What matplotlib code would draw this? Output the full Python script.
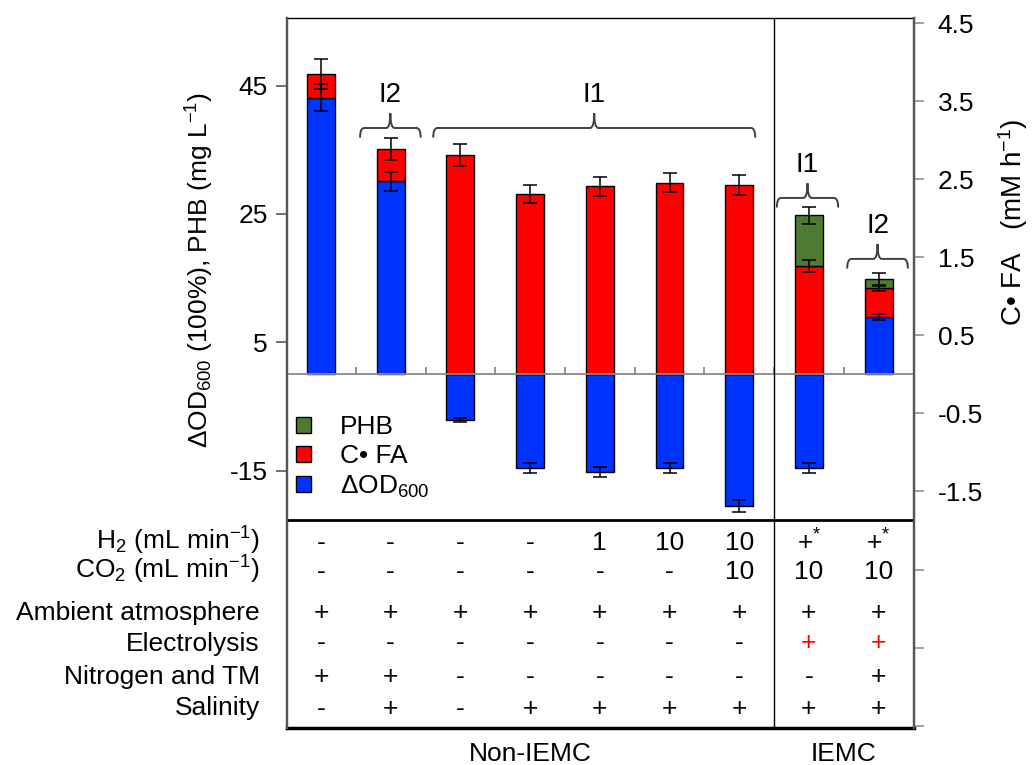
import numpy as np
import matplotlib
matplotlib.use("Agg")
import matplotlib.pyplot as plt
from matplotlib.patches import Patch, PathPatch
from matplotlib.path import Path
from matplotlib import transforms

plt.rcParams['font.family'] = ['Liberation Sans', 'DejaVu Sans']
plt.rcParams['mathtext.fontset'] = 'custom'
plt.rcParams['mathtext.rm'] = 'Liberation Sans'
plt.rcParams['mathtext.it'] = 'Liberation Sans:italic'
plt.rcParams['mathtext.default'] = 'regular'
plt.rcParams['axes.unicode_minus'] = False

# segment heights, in left-axis units (as plotted)
od_pos = [43.1, 30.1, 0, 0, 0, 0, 0, 0, 8.9]
od_neg = [0, 0, -7.1, -14.6, -15.2, -14.6, -20.5, -14.6, 0]
cfa = [3.7, 5.0, 34.2, 28.1, 29.3, 29.9, 29.5, 16.9, 4.5]
phb = [0, 0, 0, 0, 0, 0, 0, 7.9, 1.5]

od_pos_err = [2.1, 1.5, 0, 0, 0, 0, 0, 0, 0.45]
od_neg_err = [0, 0, 0.36, 0.75, 0.78, 0.75, 1.0, 0.75, 0]
cfa_err = [2.3, 1.7, 1.75, 1.4, 1.5, 1.5, 1.5, 0.9, 0.4]
phb_err = [0, 0, 0, 0, 0, 0, 0, 1.35, 0.9]

# brackets: (x start, x end, line level, label)
brackets = [(0.56, 1.43, 38.4, 'I2'),
            (1.61, 6.23, 38.4, 'I1'),
            (6.54, 7.42, 27.5, 'I1'),
            (7.55, 8.42, 18.0, 'I2')]

row_labels = ['H$_2$ (mL min$^{-1}$)', 'CO$_2$ (mL min$^{-1}$)', 'Ambient atmosphere',
              'Electrolysis', 'Nitrogen and TM', 'Salinity']
table = [
    ['-', '-', '-', '-', '1', '10', '10', '+$^{*}$', '+$^{*}$'],
    ['-', '-', '-', '-', '-', '-', '10', '10', '10'],
    ['+', '+', '+', '+', '+', '+', '+', '+', '+'],
    ['-', '-', '-', '-', '-', '-', '-', '+', '+'],
    ['+', '+', '-', '-', '-', '-', '-', '-', '+'],
    ['-', '+', '-', '+', '+', '+', '+', '+', '+'],
]
row_base_px = [550, 579, 620, 650.5, 684, 715.5]

BLUE = '#0033FF'
RED = '#FF0000'
GREEN = '#4F7A32'

W, H = 1032, 765
fig = plt.figure(figsize=(W / 100, H / 100), dpi=100)
ax = fig.add_axes([287 / W, 37 / H, 627 / W, 710 / H])

x = np.arange(len(cfa))
od_pos = np.array(od_pos)
od_neg = np.array(od_neg)
cfa = np.array(cfa)
phb = np.array(phb)

ylo, yhi = -55.1, 55.54
ax.set_xlim(-0.488, 8.508)
ax.set_ylim(ylo, yhi)

bw = 0.40
m = od_pos > 0
ax.bar(x[m], od_pos[m], bw, color=BLUE, edgecolor='black', lw=1, zorder=3)
m = od_neg < 0
ax.bar(x[m], od_neg[m], bw, color=BLUE, edgecolor='black', lw=1, zorder=3)
ax.bar(x, cfa, bw, bottom=od_pos, color=RED, edgecolor='black', lw=1, zorder=3)
m = phb > 0
ax.bar(x[m], phb[m], bw, bottom=(od_pos + cfa)[m], color=GREEN, edgecolor='black', lw=1, zorder=3)

ekw = dict(fmt='none', ecolor='black', elinewidth=1.1, capsize=5, capthick=1.1, zorder=5)
for tops, err in [(od_pos, od_pos_err), (od_neg, od_neg_err),
                  (od_pos + cfa, cfa_err), (od_pos + cfa + phb, phb_err)]:
    err = np.array(err)
    m = err > 0
    ax.errorbar(x[m], tops[m], yerr=err[m], **ekw)

# zero line with category ticks
ax.axhline(0, color='#8a8a8a', lw=1.3, zorder=4)
ax.vlines(np.arange(0.5, 8.5, 1), 0, 1.1, color='#8a8a8a', lw=1.3, zorder=4)

# table frame
table_top = -22.7
ax.axhline(table_top, color='black', lw=2, zorder=4)
ax.axvline(6.5, color='black', lw=1, zorder=4)


def brace(x0, x1, yl, label):
    r = 0.06
    drop = 1.5
    tip = 2.3
    xm = (x0 + x1) / 2
    verts = [(x0, yl - drop), (x0, yl), (x0 + r, yl),
             (xm - r, yl), (xm, yl), (xm, yl + tip),
             (xm, yl), (xm + r, yl),
             (x1 - r, yl), (x1, yl), (x1, yl - drop)]
    codes = [Path.MOVETO, Path.CURVE3, Path.CURVE3,
             Path.LINETO, Path.CURVE3, Path.CURVE3,
             Path.CURVE3, Path.CURVE3,
             Path.LINETO, Path.CURVE3, Path.CURVE3]
    ax.add_patch(PathPatch(Path(verts, codes), fill=False, ec='#404040', lw=1.4, zorder=4))
    ax.text(xm, yl + tip + 1.7, label, ha='center', va='baseline', fontsize=20)


for b in brackets:
    brace(*b)

# legend
handles = [Patch(facecolor=GREEN, edgecolor='black'),
           Patch(facecolor=RED, edgecolor='black'),
           Patch(facecolor=BLUE, edgecolor='black')]
ax.legend(handles, ['PHB', 'C\u2022 FA', '\u0394OD$_{600}$'], loc='upper left',
          bbox_to_anchor=(296 / W, 1 - 415 / H), bbox_transform=fig.transFigure,
          frameon=False, fontsize=19, handlelength=0.55, handleheight=0.55,
          handletextpad=1.1, labelspacing=0.2, borderpad=0, borderaxespad=0)

# axes
ax.set_xticks([])
ax.set_yticks([45, 25, 5, -15])
ax.tick_params(axis='y', direction='out', length=8, width=1.3, color='#666666',
               labelsize=19, pad=6)
for s in ['left', 'right']:
    ax.spines[s].set_color('#555555')
    ax.spines[s].set_linewidth(1.6)
ax.spines['top'].set_linewidth(1)
ax.spines['bottom'].set_linewidth(2.5)

ax2 = ax.twinx()
k = 6.417 / 78.05
ax2.set_ylim(ylo * k, yhi * k)
rt = np.arange(4.5, -4.6, -1)
ax2.set_yticks(rt)
ax2.set_yticklabels([f'{v:.1f}' if v > -2 else '' for v in rt])
ax2.tick_params(axis='y', direction='out', length=7, width=1.3, color='#999999',
                labelsize=19, pad=10)
for s in ['left', 'right']:
    ax2.spines[s].set_color('#555555')
    ax2.spines[s].set_linewidth(1.6)
ax2.spines['top'].set_visible(False)
ax2.spines['bottom'].set_visible(False)

fig.text(200 / W, 1 - 270 / H, '\u0394OD$_{600}$ (100%), PHB (mg L$^{-1}$)',
         rotation=90, ha='center', va='center', fontsize=19)
fig.text(1013 / W, 1 - 222 / H, 'C\u2022 FA   (mM h$^{-1}$)',
         rotation=90, ha='center', va='center', fontsize=20)

# condition table
trans = transforms.blended_transform_factory(ax.transData, fig.transFigure)
for label, row, yb in zip(row_labels, table, row_base_px):
    fig.text(260 / W, 1 - yb / H, label, ha='right', va='baseline', fontsize=19)
    for i, cell in enumerate(row):
        col = RED if (label == 'Electrolysis' and i >= 7) else 'black'
        ax.text(x[i], 1 - yb / H, cell, transform=trans, ha='center', va='baseline',
                fontsize=19, color=col, clip_on=False)

ax.text(3.0, 1 - 761 / H, 'Non-IEMC', transform=trans, ha='center', va='baseline', fontsize=19)
ax.text(7.5, 1 - 761 / H, 'IEMC', transform=trans, ha='center', va='baseline', fontsize=19)

fig.savefig('out.png', dpi=100)
